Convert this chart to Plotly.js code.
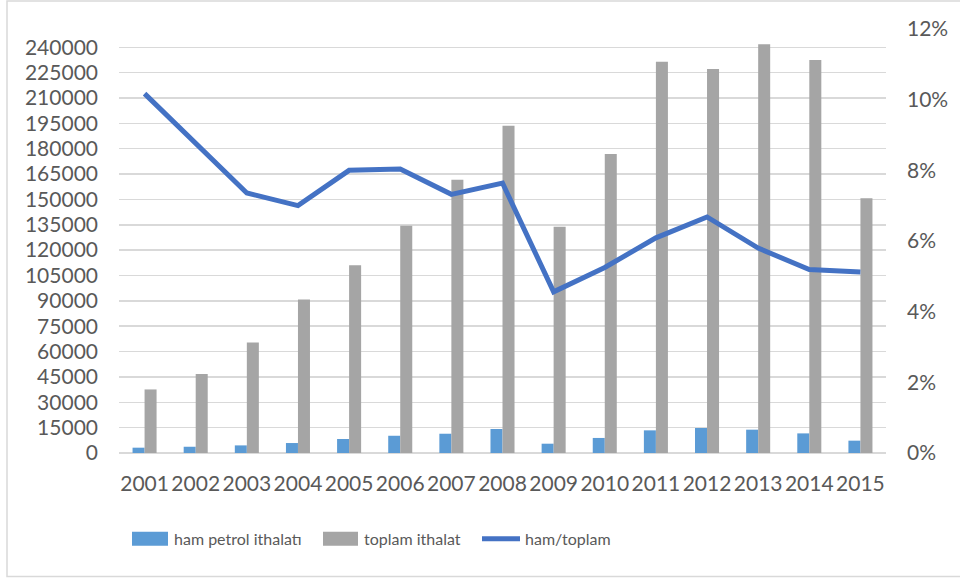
<!DOCTYPE html>
<html>
<head>
<meta charset="utf-8">
<script src="https://cdn.plot.ly/plotly-3.0.1.min.js"></script>
<style>
  html, body { margin: 0; padding: 0; background: #ffffff; }
  #chart { width: 960px; height: 580px; }
</style>
</head>
<body>
<div id="chart"></div>
<script>
// Years on the category axis
const years = ['2001','2002','2003','2004','2005','2006','2007','2008',
               '2009','2010','2011','2012','2013','2014','2015'];

// Crude oil imports
const hamPetrol = [3150, 3700, 4500, 5900, 8300, 10200, 11400, 14200,
                   5500, 8900, 13400, 14800, 13800, 11600, 7300];

// Total imports
const toplamIthalat = [37600, 46700, 65400, 90800, 111100, 134400, 161700, 193600,
                       133900, 176900, 231500, 227200, 241800, 232500, 150700];

// Crude / total ratio (right axis)
const hamToplam = [0.1017, 0.0877, 0.0736, 0.0700, 0.0800, 0.0804, 0.0732, 0.0764,
                   0.0456, 0.0525, 0.0609, 0.0668, 0.0580, 0.0519, 0.0512];

// Left axis ticks
const leftTicks = [0, 15000, 30000, 45000, 60000, 75000, 90000, 105000, 120000,
                   135000, 150000, 165000, 180000, 195000, 210000, 225000, 240000];

// Series names
const names = ['ham petrol ithalatı', 'toplam ithalat', 'ham/toplam'];

const colBlue = '#5B9BD5';
const colGray = '#A5A5A5';
const colLine = '#4472C4';
const textCol = '#595959';
const gridCol = '#D9D9D9';
const tickFont = { family: 'Lato, "Open Sans", sans-serif', size: 21, color: textCol };
const legendFont = { family: 'Lato, "Open Sans", sans-serif', size: 16, color: textCol };

const traces = [
  { type: 'bar', name: names[0], x: years, y: hamPetrol, marker: { color: colBlue }, yaxis: 'y', hoverinfo: 'x+y' },
  { type: 'bar', name: names[1], x: years, y: toplamIthalat, marker: { color: colGray }, yaxis: 'y', hoverinfo: 'x+y' },
  { type: 'scatter', mode: 'lines', name: names[2], x: years, y: hamToplam, yaxis: 'y2',
    line: { color: colLine, width: 5, shape: 'linear' }, hoverinfo: 'x+y' }
];

// Plot area in pixels: x 119..886, y 29..453
const L = 119, R = 886, T = 29, B = 453.3;
const W = R - L, H = B - T;
const px = v => (v - L) / W;
const py = v => (B - v) / H;

// Hand-placed legend row below the axis
const legendRowY = 539;
const swatches = [
  { x0: 132, x1: 168, color: colBlue, kind: 'box', textX: 172 },
  { x0: 323, x1: 358, color: colGray, kind: 'box', textX: 362 },
  { x0: 482, x1: 520, color: colLine, kind: 'line', textX: 523 }
];

const shapes = [
  // outer frame
  { type: 'rect', xref: 'paper', yref: 'paper',
    x0: px(7), x1: px(965), y0: py(577), y1: py(1),
    line: { color: gridCol, width: 1.5 }, fillcolor: 'rgba(0,0,0,0)', layer: 'below' }
];
const annotations = [];
swatches.forEach((s, i) => {
  if (s.kind === 'box') {
    shapes.push({ type: 'rect', xref: 'paper', yref: 'paper',
      x0: px(s.x0), x1: px(s.x1), y0: py(legendRowY + 7), y1: py(legendRowY - 7),
      line: { width: 0 }, fillcolor: s.color });
  } else {
    shapes.push({ type: 'line', xref: 'paper', yref: 'paper',
      x0: px(s.x0), x1: px(s.x1), y0: py(legendRowY), y1: py(legendRowY),
      line: { color: s.color, width: 5 } });
  }
  annotations.push({ xref: 'paper', yref: 'paper', x: px(s.textX), y: py(legendRowY),
    xanchor: 'left', yanchor: 'middle', showarrow: false, text: names[i], font: legendFont });
});

const layout = {
  width: 960, height: 580,
  margin: { l: L, r: 960 - R, t: T, b: 580 - B },
  paper_bgcolor: '#ffffff', plot_bgcolor: '#ffffff',
  showlegend: false,
  barmode: 'group',
  bargap: 0.53,
  bargroupgap: 0,
  font: tickFont,
  xaxis: {
    type: 'category',
    tickfont: tickFont,
    showgrid: false, zeroline: false, showline: false,
    ticks: '', ticklabelstandoff: 16
  },
  yaxis: {
    range: [0, 240000 * H / 406],
    tickmode: 'array', tickvals: leftTicks, ticktext: leftTicks.map(String),
    tickfont: tickFont,
    showgrid: true, gridcolor: gridCol, gridwidth: 1.5,
    zeroline: true, zerolinecolor: gridCol, zerolinewidth: 1.5,
    showline: false, ticks: '', ticklabelstandoff: 20
  },
  yaxis2: {
    overlaying: 'y', side: 'right',
    range: [0, 0.12], tickmode: 'linear', tick0: 0, dtick: 0.02,
    tickformat: '.0%',
    tickfont: tickFont,
    showgrid: false, zeroline: false, showline: false,
    ticks: '', ticklabelstandoff: 20
  },
  shapes: shapes,
  annotations: annotations
};

Plotly.newPlot('chart', traces, layout, { displayModeBar: false, staticPlot: true });
</script>
</body>
</html>
